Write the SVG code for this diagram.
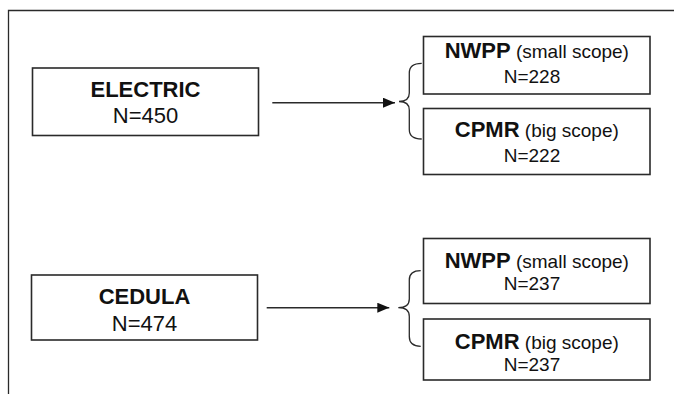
<svg xmlns="http://www.w3.org/2000/svg" width="674" height="394" viewBox="0 0 674 394">
<style>
.box{fill:#fff;stroke:#2a2a2a;stroke-width:1.6}
.frame{fill:none;stroke:#2a2a2a;stroke-width:1.3}
.conn{fill:none;stroke:#2a2a2a;stroke-width:1.6}
.brace{fill:none;stroke:#2a2a2a;stroke-width:1.3}
text{font-family:"Liberation Sans",Arial,sans-serif;fill:#111;text-anchor:middle}
.big{font-size:22px}
.b{font-weight:bold}
.sm{font-size:19px}
</style>
<defs>
<marker id="ah" markerWidth="12" markerHeight="10" refX="12" refY="5" orient="auto" markerUnits="userSpaceOnUse">
<path d="M0,0 L12,5 L0,10 Z" fill="#111"/>
</marker>
</defs>
<rect width="674" height="394" fill="#fff"/>
<path class="frame" d="M674,10.5 H8.5 V394"/>

<g id="electric">
<rect class="box" x="32.5" y="68" width="226" height="67.5"/>
<text class="big b" x="145.5" y="96.7">ELECTRIC</text>
<text class="big" x="145.5" y="122.7">N=450</text>
</g>
<g id="nwpp1">
<rect class="box" x="423.5" y="36.5" width="226.5" height="57.5"/>
<text x="536.8" y="57.5"><tspan class="big b">NWPP</tspan><tspan class="sm"> (small scope)</tspan></text>
<text class="sm" x="532" y="83.3">N=228</text>
</g>
<g id="cpmr1">
<rect class="box" x="423.5" y="108.5" width="226.5" height="66"/>
<text x="536.8" y="136.5"><tspan class="big b">CPMR</tspan><tspan class="sm"> (big scope)</tspan></text>
<text class="sm" x="532" y="162">N=222</text>
</g>
<g id="cedula">
<rect class="box" x="31.5" y="275" width="226" height="65"/>
<text class="big b" x="144.5" y="304">CEDULA</text>
<text class="big" x="144.5" y="330.7">N=474</text>
</g>
<g id="nwpp2">
<rect class="box" x="423.5" y="238.5" width="226.5" height="65"/>
<text x="536.8" y="268"><tspan class="big b">NWPP</tspan><tspan class="sm"> (small scope)</tspan></text>
<text class="sm" x="532" y="289.5">N=237</text>
</g>
<g id="cpmr2">
<rect class="box" x="423.5" y="319" width="226.5" height="61"/>
<text x="536.8" y="349"><tspan class="big b">CPMR</tspan><tspan class="sm"> (big scope)</tspan></text>
<text class="sm" x="532" y="371">N=237</text>
</g>

<g id="connectors">
<line class="conn" x1="272.3" y1="102.7" x2="395" y2="102.7" marker-end="url(#ah)"/>
<path class="brace" d="M421.7,63.3 Q409.3,63.3 409.3,73 V93 Q409.3,101.5 399,101.5 Q409.3,101.5 409.3,110 V129.5 Q409.3,139 421.7,139"/>
<line class="conn" x1="266.7" y1="307.7" x2="389.3" y2="307.7" marker-end="url(#ah)"/>
<path class="brace" d="M420.7,270.7 Q409.3,270.7 409.3,280 V299 Q409.3,307.7 398.3,307.7 Q409.3,307.7 409.3,316.5 V336.5 Q409.3,346.3 420.7,346.3"/>
</g>
</svg>
